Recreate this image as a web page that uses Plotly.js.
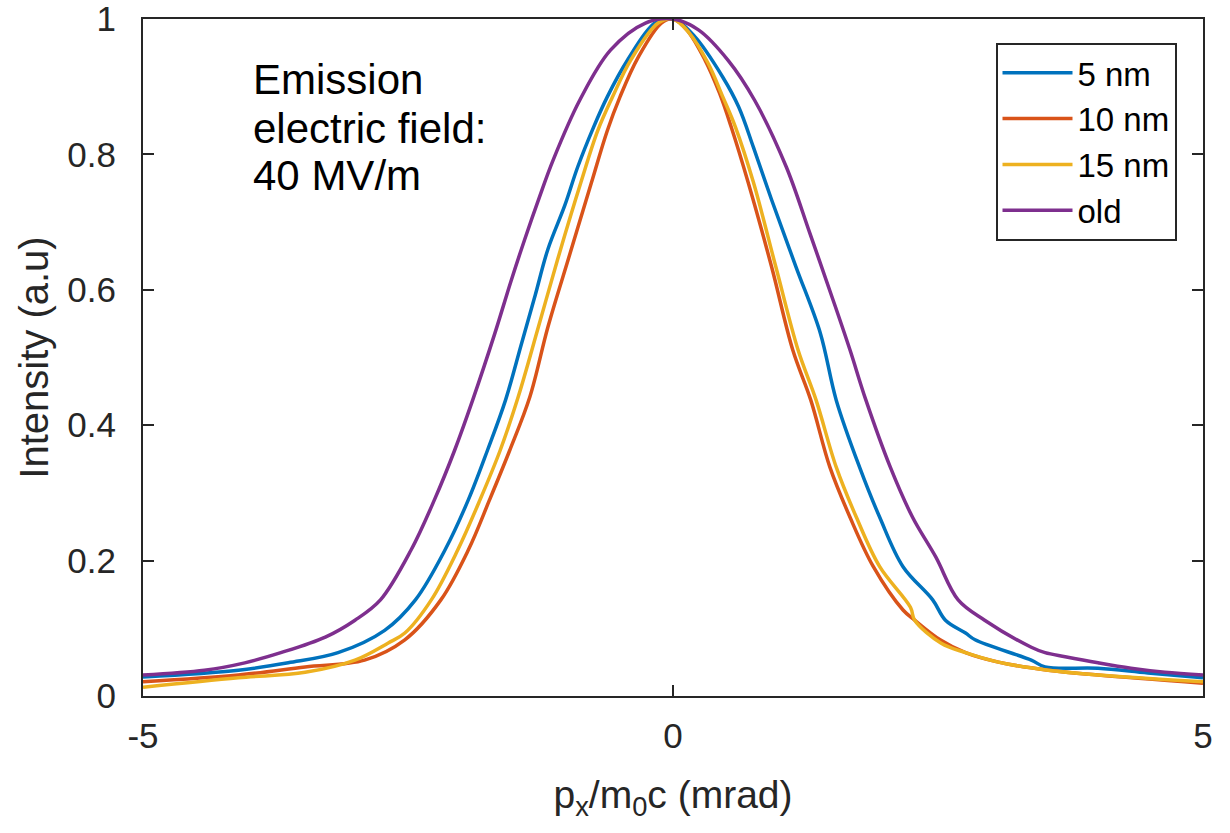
<!DOCTYPE html>
<html>
<head>
<meta charset="utf-8">
<script src="https://cdn.plot.ly/plotly-3.0.1.min.js"></script>
<style>
  html, body { margin: 0; padding: 0; background: #ffffff; }
  #chart { width: 1230px; height: 833px; }
</style>
</head>
<body>
<div id="chart"></div>
<script>
// ---- data ----
const seriesNames = ["5 nm", "10 nm", "15 nm", "old"];

const x5nm = [-5, -4.10, -3.63, -3.16, -2.72, -2.43, -2.15, -1.93, -1.75, -1.58, -1.43, -1.30, -1.18, -1.02, -0.90, -0.75, -0.62, -0.43, -0.17, 0, 0.20, 0.47, 0.62, 0.76, 0.93, 1.16, 1.39, 1.54, 1.76, 1.95, 2.17, 2.45, 2.57, 2.76, 2.85, 3.38, 3.51, 4.01, 4.48, 5];
const y5nm = [0.028, 0.038, 0.049, 0.064, 0.097, 0.142, 0.216, 0.290, 0.363, 0.437, 0.520, 0.592, 0.660, 0.725, 0.781, 0.840, 0.885, 0.939, 0.994, 1.0, 0.975, 0.914, 0.870, 0.810, 0.733, 0.634, 0.536, 0.437, 0.338, 0.264, 0.191, 0.142, 0.112, 0.093, 0.083, 0.053, 0.043, 0.041, 0.034, 0.027];

const x10nm = [-5, -4.10, -3.47, -2.91, -2.53, -2.19, -1.93, -1.73, -1.54, -1.35, -1.18, -0.99, -0.77, -0.62, -0.50, -0.33, -0.11, 0, 0.13, 0.30, 0.44, 0.55, 0.71, 0.93, 1.13, 1.30, 1.48, 1.67, 1.89, 2.17, 2.28, 2.52, 2.76, 3.07, 3.54, 4.01, 5];
const y10nm = [0.021, 0.031, 0.043, 0.053, 0.083, 0.142, 0.216, 0.290, 0.363, 0.442, 0.545, 0.644, 0.758, 0.835, 0.885, 0.943, 0.994, 1.0, 0.984, 0.940, 0.890, 0.840, 0.758, 0.634, 0.511, 0.437, 0.338, 0.264, 0.191, 0.127, 0.112, 0.083, 0.064, 0.050, 0.038, 0.031, 0.019];

const x15nm = [-5, -4.10, -3.47, -3.00, -2.69, -2.53, -2.28, -2.03, -1.82, -1.63, -1.46, -1.27, -1.09, -0.87, -0.71, -0.57, -0.40, -0.14, 0, 0.15, 0.33, 0.47, 0.59, 0.76, 0.97, 1.18, 1.35, 1.54, 1.73, 1.95, 2.24, 2.28, 2.53, 2.76, 3.07, 3.54, 4.01, 5];
const y15nm = [0.013, 0.027, 0.035, 0.053, 0.078, 0.093, 0.142, 0.216, 0.290, 0.363, 0.442, 0.545, 0.644, 0.758, 0.835, 0.885, 0.939, 0.994, 1.0, 0.980, 0.935, 0.885, 0.840, 0.758, 0.634, 0.511, 0.437, 0.338, 0.264, 0.191, 0.131, 0.112, 0.078, 0.064, 0.050, 0.038, 0.031, 0.021];

const xOld = [-5, -4.42, -4.04, -3.70, -3.28, -3.00, -2.76, -2.47, -2.25, -2.06, -1.89, -1.68, -1.53, -1.40, -1.26, -1.13, -0.88, -0.59, -0.26, 0, 0.24, 0.52, 0.77, 1.07, 1.29, 1.51, 1.67, 1.82, 2.05, 2.26, 2.48, 2.69, 2.94, 3.38, 3.51, 3.70, 4.01, 4.32, 4.64, 5];
const yOld = [0.031, 0.038, 0.049, 0.064, 0.087, 0.112, 0.142, 0.216, 0.290, 0.363, 0.437, 0.536, 0.612, 0.674, 0.737, 0.792, 0.880, 0.954, 0.994, 1.0, 0.984, 0.939, 0.880, 0.781, 0.684, 0.585, 0.511, 0.437, 0.338, 0.264, 0.205, 0.142, 0.112, 0.072, 0.064, 0.058, 0.049, 0.041, 0.035, 0.031];

const xTicks = [-5, 0, 5];
const xTickLabels = ["-5", "0", "5"];
const yTicks = [0, 0.2, 0.4, 0.6, 0.8, 1];
const yTickLabels = ["0", "0.2", "0.4", "0.6", "0.8", "1"];

const colors = ["#0072BD", "#D95319", "#EDB120", "#7E2F8E"];
const xs = [x5nm, x10nm, x15nm, xOld];
const ys = [y5nm, y10nm, y15nm, yOld];

const FONT = "Liberation Sans, Arial, sans-serif";
const AX = "#262626";

const traces = seriesNames.map((name, i) => ({
  type: "scatter",
  mode: "lines",
  name: name,
  x: xs[i],
  y: ys[i],
  line: { color: colors[i], width: 3.5, shape: "spline", smoothing: 1.0 },
  cliponaxis: true
}));

const layout = {
  width: 1230,
  height: 833,
  paper_bgcolor: "#ffffff",
  plot_bgcolor: "#ffffff",
  margin: { l: 143, r: 27, t: 19, b: 137, pad: 0 },
  showlegend: true,
  legend: {
    x: 0.975, y: 0.965, xanchor: "right", yanchor: "top",
    bgcolor: "#ffffff",
    bordercolor: AX, borderwidth: 2,
    font: { family: FONT, size: 33, color: "#000000" },
    tracegroupgap: 0,
    itemwidth: 70
  },
  xaxis: {
    range: [-5, 5],
    tickmode: "array", tickvals: xTicks, ticktext: xTickLabels,
    ticks: "inside", ticklen: 11, tickwidth: 2, tickcolor: AX,
    showline: true, linecolor: AX, linewidth: 2, mirror: "ticks",
    showgrid: false, zeroline: false,
    tickfont: { family: FONT, size: 35, color: AX },
    ticklabelstandoff: 8,
    ticklabeloverflow: "allow",
    title: { text: "p<sub>x</sub>/m<sub>0</sub>c (mrad)", font: { family: FONT, size: 39, color: AX }, standoff: 27 }
  },
  yaxis: {
    range: [0, 1],
    tickmode: "array", tickvals: yTicks, ticktext: yTickLabels,
    ticks: "inside", ticklen: 11, tickwidth: 2, tickcolor: AX,
    showline: true, linecolor: AX, linewidth: 2, mirror: "ticks",
    showgrid: false, zeroline: false,
    tickfont: { family: FONT, size: 35, color: AX },
    ticklabelstandoff: 18,
    ticklabeloverflow: "allow",
    title: { text: "Intensity (a.u)", font: { family: FONT, size: 40, color: AX }, standoff: 6 }
  },
  annotations: [
    { xref: "paper", yref: "paper", x: 0.1020, y: (696 - 80) / 677, xanchor: "left", yanchor: "middle",
      text: "Emission", showarrow: false, font: { family: FONT, size: 42, color: "#000000" } },
    { xref: "paper", yref: "paper", x: 0.1020, y: (696 - 128) / 677, xanchor: "left", yanchor: "middle",
      text: "electric field:", showarrow: false, font: { family: FONT, size: 42, color: "#000000" } },
    { xref: "paper", yref: "paper", x: 0.1020, y: (696 - 175) / 677, xanchor: "left", yanchor: "middle",
      text: "40 MV/m", showarrow: false, font: { family: FONT, size: 42, color: "#000000" } }
  ]
};

Plotly.newPlot("chart", traces, layout, { displayModeBar: false, staticPlot: true });
</script>
</body>
</html>
